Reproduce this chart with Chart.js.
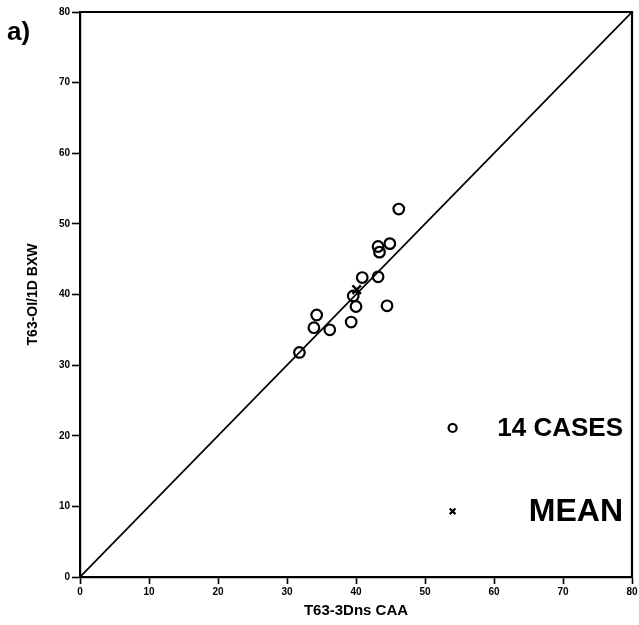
<!DOCTYPE html>
<html>
<head>
<meta charset="utf-8">
<script src="https://cdn.jsdelivr.net/npm/chart.js@4/dist/chart.umd.min.js"></script>
<style>
  html, body { margin: 0; padding: 0; background: #fff; }
  #wrap { width: 639px; height: 625px; }
</style>
</head>
<body>
<div id="wrap"><canvas id="c" width="639" height="625"></canvas></div>
<script>
// Individual cases: CAA run (x) against BXW run (y)
const caseX = [31.8, 34.3, 33.9, 36.2, 39.3, 40.0, 39.6, 40.9, 43.2, 44.5, 43.2, 43.4, 44.9, 46.2];
const caseY = [31.8, 37.1, 35.3, 35.0, 36.1, 38.3, 39.8, 42.4, 42.5, 38.4, 46.8, 46.0, 47.2, 52.1];
// Mean of the cases
const meanX = [40.1];
const meanY = [40.7];
// 1:1 reference line
const diagonal = [0, 80];
// Axis tick values
const axisTicks = [0, 10, 20, 30, 40, 50, 60, 70, 80];

// Legend entries and where they sit (data units)
const legendLabels = ['14 CASES', 'MEAN'];
const legendStyles = ['circle', 'crossRot'];
const legendAnchorX = 54;
const legendAnchorY = [21.1, 9.3];
const legendFontSizes = [26, 32];

const FONT = "'Liberation Sans', Arial, Helvetica, sans-serif";

const frameAndLabels = {
  id: 'frameAndLabels',
  afterDraw(chart) {
    const { ctx, chartArea: a, scales } = chart;
    ctx.save();
    // closing top and right edges of the frame
    ctx.strokeStyle = '#000';
    ctx.lineWidth = 2.2;
    ctx.beginPath();
    ctx.moveTo(a.left, a.top);
    ctx.lineTo(a.right, a.top);
    ctx.lineTo(a.right, a.bottom);
    ctx.stroke();

    // panel label
    ctx.fillStyle = '#000';
    ctx.font = 'bold 26px ' + FONT;
    ctx.textAlign = 'left';
    ctx.textBaseline = 'alphabetic';
    ctx.fillText('a)', 7, 40);

    // in-plot legend
    const mx = scales.x.getPixelForValue(legendAnchorX);
    legendLabels.forEach((label, i) => {
      const my = scales.y.getPixelForValue(legendAnchorY[i]);
      ctx.save();
      ctx.strokeStyle = '#000';
      ctx.fillStyle = 'rgba(0,0,0,0)';
      Chart.helpers.drawPoint(ctx, {
        pointStyle: legendStyles[i],
        radius: 4,
        borderWidth: 2.2,
        rotation: 0
      }, mx, my);
      ctx.restore();
      ctx.fillStyle = '#000';
      ctx.font = 'bold ' + legendFontSizes[i] + 'px ' + FONT;
      ctx.textAlign = 'right';
      ctx.textBaseline = 'middle';
      ctx.fillText(label, a.right - 9, my + 1);
    });
    ctx.restore();
  }
};

const tickFont = { family: FONT, size: 10, weight: 'bold' };

new Chart(document.getElementById('c'), {
  type: 'scatter',
  data: {
    datasets: [
      {
        label: 'cases',
        data: caseX.map((x, i) => ({ x, y: caseY[i] })),
        pointStyle: 'circle',
        pointRadius: 5.3,
        pointBorderWidth: 2.2,
        borderColor: '#000',
        backgroundColor: 'rgba(0,0,0,0)',
        order: 1
      },
      {
        label: 'mean',
        data: meanX.map((x, i) => ({ x, y: meanY[i] })),
        pointStyle: 'crossRot',
        pointRadius: 6,
        pointBorderWidth: 2.4,
        borderColor: '#000',
        backgroundColor: '#000',
        order: 0
      },
      {
        type: 'line',
        label: '1:1',
        data: diagonal.map(v => ({ x: v, y: v })),
        borderColor: '#000',
        borderWidth: 1.7,
        pointRadius: 0,
        fill: false,
        order: 2
      }
    ]
  },
  options: {
    responsive: false,
    animation: false,
    layout: { autoPadding: false, padding: { top: 12, right: 7, left: 0, bottom: 0 } },
    plugins: { legend: { display: false }, tooltip: { enabled: false } },
    scales: {
      x: {
        type: 'linear',
        min: 0, max: 80,
        afterBuildTicks: s => { s.ticks = axisTicks.map(v => ({ value: v })); },
        afterFit: s => { s.height = 48; s.paddingLeft = 0; s.paddingRight = 0; },
        ticks: { font: tickFont, color: '#000', padding: 2, maxRotation: 0 },
        grid: { drawOnChartArea: false, drawTicks: true, tickLength: 7, tickWidth: 1.6, tickColor: '#000' },
        border: { color: '#000', width: 2.2 },
        title: {
          display: true, text: 'T63-3Dns CAA', color: '#000',
          font: { family: FONT, size: 15, weight: 'bold' },
          padding: { top: 0, bottom: 5 }
        }
      },
      y: {
        type: 'linear',
        min: 0, max: 80,
        afterBuildTicks: s => { s.ticks = axisTicks.map(v => ({ value: v })); },
        afterFit: s => { s.width = 80; s.paddingTop = 0; s.paddingBottom = 0; },
        ticks: { font: tickFont, color: '#000', padding: 2 },
        grid: { drawOnChartArea: false, drawTicks: true, tickLength: 8, tickWidth: 1.6, tickColor: '#000' },
        border: { color: '#000', width: 2.2 },
        title: {
          display: true, text: 'T63-OI/1D BXW', color: '#000',
          font: { family: FONT, size: 14, weight: 'bold' },
          padding: { top: 25, bottom: 0 }
        }
      }
    }
  },
  plugins: [frameAndLabels]
});
</script>
</body>
</html>
